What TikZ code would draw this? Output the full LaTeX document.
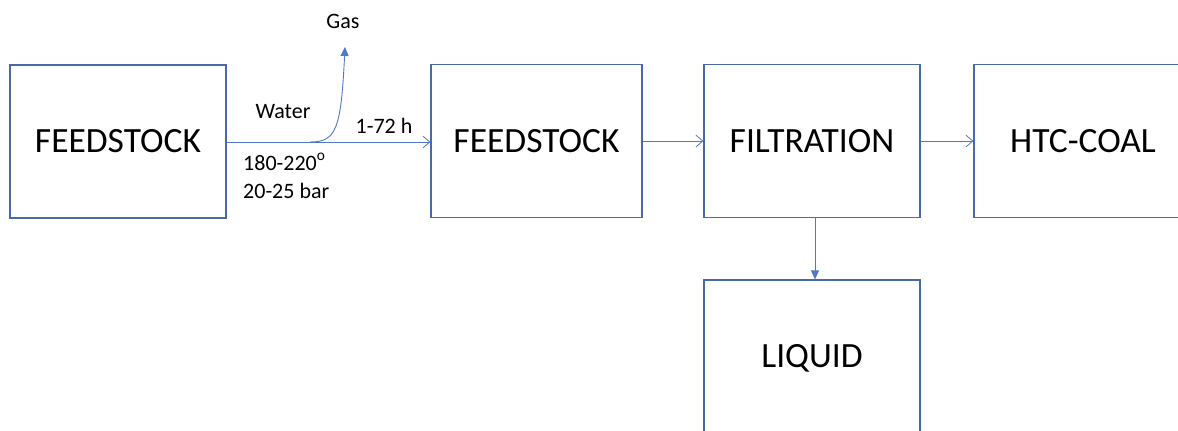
\documentclass[tikz,border=0pt]{standalone}
\usepackage{fontspec}
\setmainfont{Carlito}
\usetikzlibrary{arrows.meta}
\definecolor{boxblue}{RGB}{72,106,168}
\definecolor{arrblue}{RGB}{80,120,200}
\begin{document}
\begin{tikzpicture}[x=1pt,y=-1pt,
  box/.style={draw=boxblue,line width=1.2pt,minimum width=216pt,minimum height=153pt,inner sep=0pt,font=\fontsize{35.5}{40}\selectfont},
  lab/.style={inner sep=0pt,font=\fontsize{22}{24}\selectfont},
  openarr/.style={draw=arrblue,line width=0.9pt,-{Straight Barb[length=7pt,width=12pt,line width=0.8pt]}},
  fillarr/.style={draw=arrblue,line width=0.9pt,-{Triangle[length=9pt,width=8pt]}}]
\useasboundingbox (0,0) rectangle (1178,431);
\node[box] (f1) at (118,141.5) {FEEDSTOCK};
\node[box,minimum width=211pt] (f2) at (536.5,141) {FEEDSTOCK};
\node[box] (fil) at (812,141) {FILTRATION};
\node[box,minimum width=218pt] (htc) at (1083,141) {HTC-COAL};
\node[box,minimum height=156pt] (liq) at (812,358) {LIQUID};
\node[lab] (gas) at (343,21) {Gas};
\node[lab] (water) at (283,112) {Water};
\node[lab] (time) at (384,126) {1-72 h};
\node[lab,anchor=west] (temp) at (243,162) {180-220\raisebox{2pt}{\textsuperscript{o}}};
\node[lab,anchor=west] (pres) at (243,191) {20-25 bar};
\coordinate (split) at (310,142);
\coordinate (gasend) at (345,47);
\draw[openarr] (f1.east |- 0,142) -- (f2.west |- 0,142);
\draw[fillarr] (split) .. controls (336,142) and (341,130) .. (gasend);
\draw[openarr] (f2.east |- 0,141) -- (fil.west |- 0,141);
\draw[openarr] (fil.east |- 0,141) -- (htc.west |- 0,141);
\draw[fillarr] (fil.south -| 815,0) -- (liq.north -| 815,0);
\end{tikzpicture}
\end{document}
